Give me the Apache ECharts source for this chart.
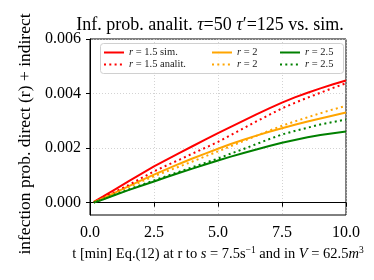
<!DOCTYPE html>
<html>
<head>
<meta charset="utf-8">
<script src="https://cdn.jsdelivr.net/npm/echarts@6/dist/echarts.min.js"></script>
<style>html,body{margin:0;padding:0;background:#fff}#c{width:374px;height:280px}</style>
</head>
<body>
<div id="c"></div>
<script>
var tValues = [0.15,0.5,1,1.5,2,2.5,3,3.5,4,4.5,5,5.5,6,6.5,7,7.5,8,8.5,9,9.5,10];
var red15Sim = [0.00003,0.00022,0.00050,0.00078,0.00106,0.00133,0.00158,0.00183,0.00207,0.00231,0.00255,0.00278,0.00301,0.00324,0.00346,0.00367,0.00386,0.00403,0.00419,0.00434,0.00448];
var red15An  = [0.00001,0.00018,0.00041,0.00064,0.00090,0.00115,0.00137,0.00158,0.00180,0.00201,0.00223,0.00248,0.00273,0.00298,0.00322,0.00346,0.00366,0.00385,0.00403,0.00421,0.00438];
var or2Sim   = [0.00002,0.00016,0.00038,0.00060,0.00082,0.00103,0.00123,0.00143,0.00162,0.00180,0.00198,0.00215,0.00231,0.00246,0.00260,0.00273,0.00286,0.00298,0.00309,0.00320,0.00331];
var or2An    = [0.00001,0.00015,0.00036,0.00057,0.00077,0.00097,0.00115,0.00133,0.00151,0.00170,0.00188,0.00207,0.00226,0.00245,0.00264,0.00282,0.00298,0.00313,0.00328,0.00342,0.00355];
var gr25Sim  = [0.00001,0.00012,0.00029,0.00046,0.00062,0.00078,0.00094,0.00110,0.00125,0.00140,0.00155,0.00169,0.00182,0.00195,0.00208,0.00220,0.00230,0.00240,0.00248,0.00255,0.00261];
var gr25An   = [0.00001,0.00013,0.00031,0.00048,0.00065,0.00082,0.00098,0.00114,0.00130,0.00146,0.00162,0.00180,0.00197,0.00215,0.00233,0.00250,0.00263,0.00275,0.00287,0.00296,0.00305];
var yTicks = [0, 0.002, 0.004, 0.006];
var xTicks = [0, 2.5, 5, 7.5, 10];
var legendLabels = {
  r15s: '{i|r} = 1.5 sim.', r15a: '{i|r} = 1.5 analit.',
  r2s: '{i|r} = 2', r2a: '{i|r} = 2',
  r25s: '{i|r} = 2.5', r25a: '{i|r} = 2.5'
};

function pairs(ys) { return tValues.map(function (t, i) { return [t, ys[i]]; }); }
var SERIF = '"Liberation Serif", "DejaVu Serif", serif';
var dotted = [2, 3.3];
function mk(name, data, color, dashed) {
  return {
    name: name, type: 'line', data: pairs(data), symbol: 'none', smooth: false,
    lineStyle: { color: color, width: 2, type: dashed ? dotted : 'solid', cap: 'butt' },
    itemStyle: { color: color }, z: 3
  };
}
function lg(left, names) {
  return {
    orient: 'vertical', itemWidth: 20, itemHeight: 10, itemGap: 1, top: 47, left: left, padding: 0,
    selectedMode: false, data: names,
    itemStyle: { opacity: 0 },
    textStyle: { fontFamily: SERIF, fontSize: 10.5, color: '#222', lineHeight: 10,
      rich: { i: { fontFamily: SERIF, fontStyle: 'italic', fontSize: 10.5, color: '#222' } } },
    formatter: function (n) { return legendLabels[n]; }
  };
}
var chart = echarts.init(document.getElementById('c'), null, { renderer: 'canvas' });
chart.setOption({
  animation: false,
  backgroundColor: '#fff',
  title: {
    text: 'Inf. prob. analit. {i|τ}=50 {i|τ}′=125 vs. sim.',
    left: 210, top: 16, textAlign: 'center', padding: 0,
    textStyle: { fontFamily: SERIF, fontSize: 18, fontWeight: 'normal', color: '#000',
      rich: { i: { fontFamily: SERIF, fontStyle: 'italic', fontSize: 18, color: '#000' } } }
  },
  grid: { left: 90, right: 28, top: 39, bottom: 65, show: true, borderColor: '#000', borderWidth: 1, backgroundColor: 'transparent' },
  graphic: [{
    type: 'rect', shape: { x: 100.5, y: 43.5, width: 243, height: 30, r: 3 },
    style: { fill: 'rgba(255,255,255,0.8)', stroke: '#d0d0d0', lineWidth: 1 }, z: 1
  }],
  legend: [lg(103, ['r15s', 'r15a']), lg(211, ['r2s', 'r2a']), lg(279, ['r25s', 'r25a'])],
  xAxis: {
    type: 'value', min: 0, max: 10, interval: 2.5,
    name: 't [min] Eq.(12) at r to {i|s} = 7.5s{sup|−1} and in {i|V} = 62.5{i|m}{sup|3}',
    nameLocation: 'middle', nameGap: 30,
    nameTextStyle: { fontFamily: SERIF, fontSize: 14.5, color: '#000',
      rich: { i: { fontFamily: SERIF, fontStyle: 'italic', fontSize: 14.5, color: '#000' },
              sup: { fontFamily: SERIF, fontSize: 9.5, color: '#000', verticalAlign: 'top', padding: [0, 0, 7, 0] } } },
    axisLine: { show: true, lineStyle: { color: '#000', width: 1 } },
    axisTick: { show: true, inside: false, length: 4, lineStyle: { color: '#000' } },
    axisLabel: { margin: 10, fontFamily: SERIF, fontSize: 16, color: '#000',
      formatter: function (v) { return v.toFixed(1); } },
    splitLine: { show: true, lineStyle: { color: '#c8c8c8', width: 0.8, type: [1, 2] } }
  },
  yAxis: {
    type: 'value', min: -0.00045, max: 0.006,
    name: 'infection prob. direct (r) + indirect',
    nameLocation: 'middle', nameGap: 56, nameRotate: 90,
    nameTextStyle: { fontFamily: SERIF, fontSize: 17.5, color: '#000', padding: [0, 14, 0, 0] },
    axisLine: { show: true, lineStyle: { color: '#000', width: 1 } },
    axisTick: { show: true, inside: false, length: 4, lineStyle: { color: '#000' }, customValues: yTicks },
    axisLabel: { margin: 9, fontFamily: SERIF, fontSize: 16, color: '#000', customValues: yTicks,
      formatter: function (v) { return v.toFixed(3); } },
    splitLine: { show: true, lineStyle: { color: '#c8c8c8', width: 0.8, type: [1, 2] } }
  },
  series: [
    mk('r15s', red15Sim, '#ff0000', false),
    mk('r2s', or2Sim, '#ffa500', false),
    mk('r25s', gr25Sim, '#008000', false),
    mk('r15a', red15An, '#ff0000', true),
    mk('r2a', or2An, '#ffa500', true),
    mk('r25a', gr25An, '#008000', true)
  ]
});
</script>
</body>
</html>
